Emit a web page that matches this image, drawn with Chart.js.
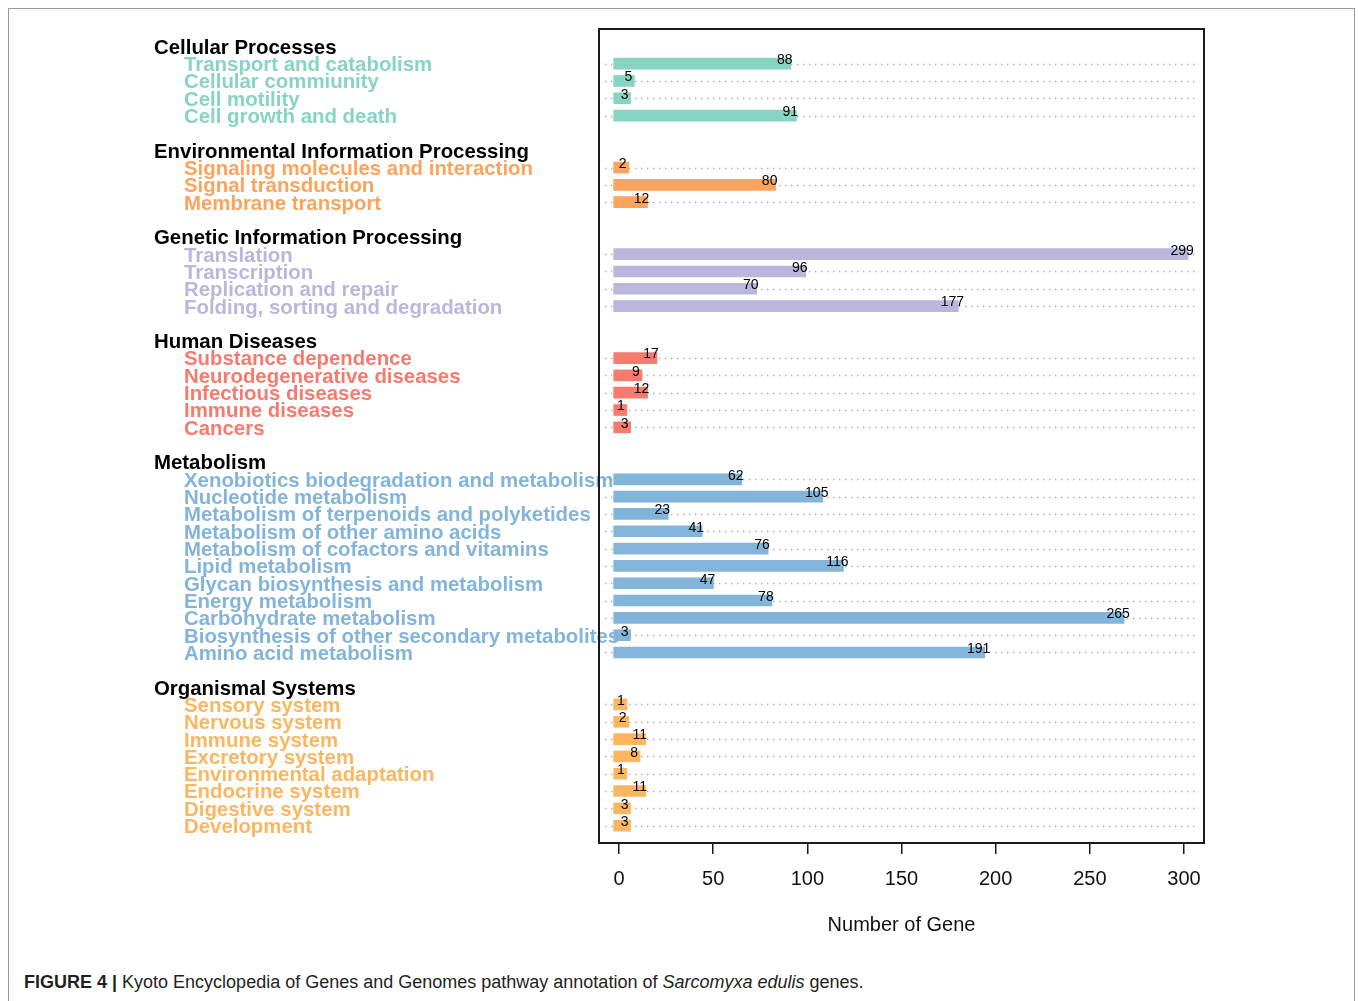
<!DOCTYPE html>
<html>
<head>
<meta charset="utf-8">
<script src="https://cdn.jsdelivr.net/npm/chart.js@4.4.1/dist/chart.umd.min.js"></script>
<style>
  html, body { margin: 0; padding: 0; background: #fff; }
  body { width: 1358px; height: 1001px; position: relative; overflow: hidden; }
  #frame { position: absolute; left: 8px; top: 8px; width: 1347px; height: 1020px; border: 1px solid #9a9a9a; box-sizing: border-box; }
  #wrap { position: absolute; left: 0; top: 0; width: 1358px; height: 960px; }
  #caption { position: absolute; left: 24px; top: 972px; font-family: "Liberation Sans Narrow", "Liberation Sans", Arial, sans-serif; font-size: 18px; color: #231f20; white-space: nowrap; }
  #caption b { font-weight: bold; }
</style>
</head>
<body>
<div id="frame"></div>
<div id="wrap"><canvas id="kegg" width="1358" height="960"></canvas></div>
<div id="caption"><b>FIGURE 4 |</b> Kyoto Encyclopedia of Genes and Genomes pathway annotation of <i>Sarcomyxa edulis</i> genes.</div>
<script>
// KEGG pathway categories and gene counts
const groupNames = [
  'Cellular Processes',
  'Environmental Information Processing',
  'Genetic Information Processing',
  'Human Diseases',
  'Metabolism',
  'Organismal Systems'
];

const cellularPathways = ['Transport and catabolism', 'Cellular commiunity', 'Cell motility', 'Cell growth and death'];
const cellularCounts = [88, 5, 3, 91];

const environmentalPathways = ['Signaling molecules and interaction', 'Signal transduction', 'Membrane transport'];
const environmentalCounts = [2, 80, 12];

const geneticPathways = ['Translation', 'Transcription', 'Replication and repair', 'Folding, sorting and degradation'];
const geneticCounts = [299, 96, 70, 177];

const diseasePathways = ['Substance dependence', 'Neurodegenerative diseases', 'Infectious diseases', 'Immune diseases', 'Cancers'];
const diseaseCounts = [17, 9, 12, 1, 3];

const metabolismPathways = [
  'Xenobiotics biodegradation and metabolism',
  'Nucleotide metabolism',
  'Metabolism of terpenoids and polyketides',
  'Metabolism of other amino acids',
  'Metabolism of cofactors and vitamins',
  'Lipid metabolism',
  'Glycan biosynthesis and metabolism',
  'Energy metabolism',
  'Carbohydrate metabolism',
  'Biosynthesis of other secondary metabolites',
  'Amino acid metabolism'
];
const metabolismCounts = [62, 105, 23, 41, 76, 116, 47, 78, 265, 3, 191];

const organismalPathways = ['Sensory system', 'Nervous system', 'Immune system', 'Excretory system', 'Environmental adaptation', 'Endocrine system', 'Digestive system', 'Development'];
const organismalCounts = [1, 2, 11, 8, 1, 11, 3, 3];

const xTicks = [0, 50, 100, 150, 200, 250, 300];
const xTitle = 'Number of Gene';

// Colour for each group (labels and bars)
const groupColors = ['#86d4c1', '#fca35d', '#bab6dc', '#f77a6e', '#83b4da', '#fbb65f'];

// Build the row list: a padding row top and bottom, a header row per group,
// one row per pathway, and an empty spacer row between groups.
const groupPathways = [cellularPathways, environmentalPathways, geneticPathways, diseasePathways, metabolismPathways, organismalPathways];
const groupCounts = [cellularCounts, environmentalCounts, geneticCounts, diseaseCounts, metabolismCounts, organismalCounts];

const rowLabels = [''];
const rowValues = [null];
const rowKind = ['pad'];
const rowGroup = [-1];
groupNames.forEach((name, g) => {
  if (g > 0) { rowLabels.push(''); rowValues.push(null); rowKind.push('gap'); rowGroup.push(-1); }
  rowLabels.push(name); rowValues.push(null); rowKind.push('header'); rowGroup.push(g);
  groupPathways[g].forEach((p, i) => {
    rowLabels.push(p); rowValues.push(groupCounts[g][i]); rowKind.push('item'); rowGroup.push(g);
  });
});
rowLabels.push(''); rowValues.push(null); rowKind.push('pad'); rowGroup.push(-1);

const rowColors = rowGroup.map(g => g >= 0 ? groupColors[g] : 'rgba(0,0,0,0)');

const FONT = '"Liberation Sans", Arial, Helvetica, sans-serif';
const CAP = 6; // bars are drawn with square ends extending past both ends

// Dotted guide lines, behind the bars, and the row labels on the left
const rowDecor = {
  id: 'rowDecor',
  beforeDatasetsDraw(chart) {
    const { ctx, chartArea } = chart;
    const y = chart.scales.y;
    ctx.save();
    ctx.strokeStyle = '#ababab';
    ctx.lineWidth = 1.4;
    ctx.setLineDash([1.4, 4.6]);
    rowKind.forEach((k, i) => {
      if (k !== 'item') return;
      const py = Math.round(y.getPixelForValue(i)) + 0.5;
      ctx.beginPath();
      ctx.moveTo(chartArea.left + 6, py);
      ctx.lineTo(chartArea.right - 6, py);
      ctx.stroke();
    });
    ctx.setLineDash([]);
    ctx.textBaseline = 'middle';
    ctx.textAlign = 'left';
    ctx.font = 'bold 20.4px ' + FONT;
    rowKind.forEach((k, i) => {
      if (k !== 'header' && k !== 'item') return;
      const py = y.getPixelForValue(i) + 1.8;
      if (k === 'header') {
        ctx.fillStyle = '#000';
        ctx.fillText(rowLabels[i], 154, py);
      } else {
        ctx.fillStyle = rowColors[i];
        ctx.fillText(rowLabels[i], 184, py);
      }
    });
    ctx.restore();

    // widen bars by the cap amount on both ends while they are drawn
    const meta = chart.getDatasetMeta(0);
    meta.data.forEach((el, i) => {
      if (rowValues[i] === null) return;
      el.$saved = [el.x, el.base];
      el.x += CAP;
      el.base -= CAP;
    });
  },
  afterDatasetsDraw(chart) {
    const meta = chart.getDatasetMeta(0);
    meta.data.forEach((el) => {
      if (el.$saved) { el.x = el.$saved[0]; el.base = el.$saved[1]; delete el.$saved; }
    });
    const { ctx, chartArea } = chart;
    const xs = chart.scales.x, ys = chart.scales.y;
    ctx.save();
    // value labels
    ctx.font = '14px ' + FONT;
    ctx.fillStyle = '#000';
    ctx.textAlign = 'center';
    ctx.textBaseline = 'middle';
    rowValues.forEach((v, i) => {
      if (v === null) return;
      ctx.fillText(String(v), xs.getPixelForValue(v), ys.getPixelForValue(i) - 3.5);
    });
    // plot box
    ctx.strokeStyle = '#1b1b1b';
    ctx.lineWidth = 2;
    ctx.strokeRect(chartArea.left, chartArea.top, chartArea.right - chartArea.left, chartArea.bottom - chartArea.top);
    ctx.restore();
  }
};

new Chart(document.getElementById('kegg'), {
  type: 'bar',
  data: {
    labels: rowLabels,
    datasets: [{
      data: rowValues,
      backgroundColor: rowColors,
      borderWidth: 0,
      barThickness: 11
    }]
  },
  options: {
    indexAxis: 'y',
    responsive: false,
    animation: false,
    devicePixelRatio: 1,
    layout: { padding: { top: 29, right: 154, left: 0, bottom: 0 } },
    plugins: { legend: { display: false }, tooltip: { enabled: false }, title: { display: false } },
    scales: {
      y: {
        type: 'category',
        offset: false,
        grid: { display: false },
        border: { display: false },
        ticks: { display: false },
        afterFit(scale) { scale.width = 599; }
      },
      x: {
        type: 'linear',
        min: -10.6,
        max: 310.6,
        afterBuildTicks(scale) { scale.ticks = xTicks.map(v => ({ value: v })); },
        grid: { drawOnChartArea: false, drawTicks: true, tickLength: 11, color: '#1b1b1b', lineWidth: 1.5 },
        border: { display: false },
        ticks: { padding: 13, color: '#111', font: { family: FONT, size: 20 }, maxRotation: 0 },
        title: { display: true, text: xTitle, color: '#111', font: { family: FONT, size: 20 }, padding: { top: 0, bottom: 23 } },
        afterFit(scale) { scale.height = 117; }
      }
    }
  },
  plugins: [rowDecor]
});
</script>
</body>
</html>
